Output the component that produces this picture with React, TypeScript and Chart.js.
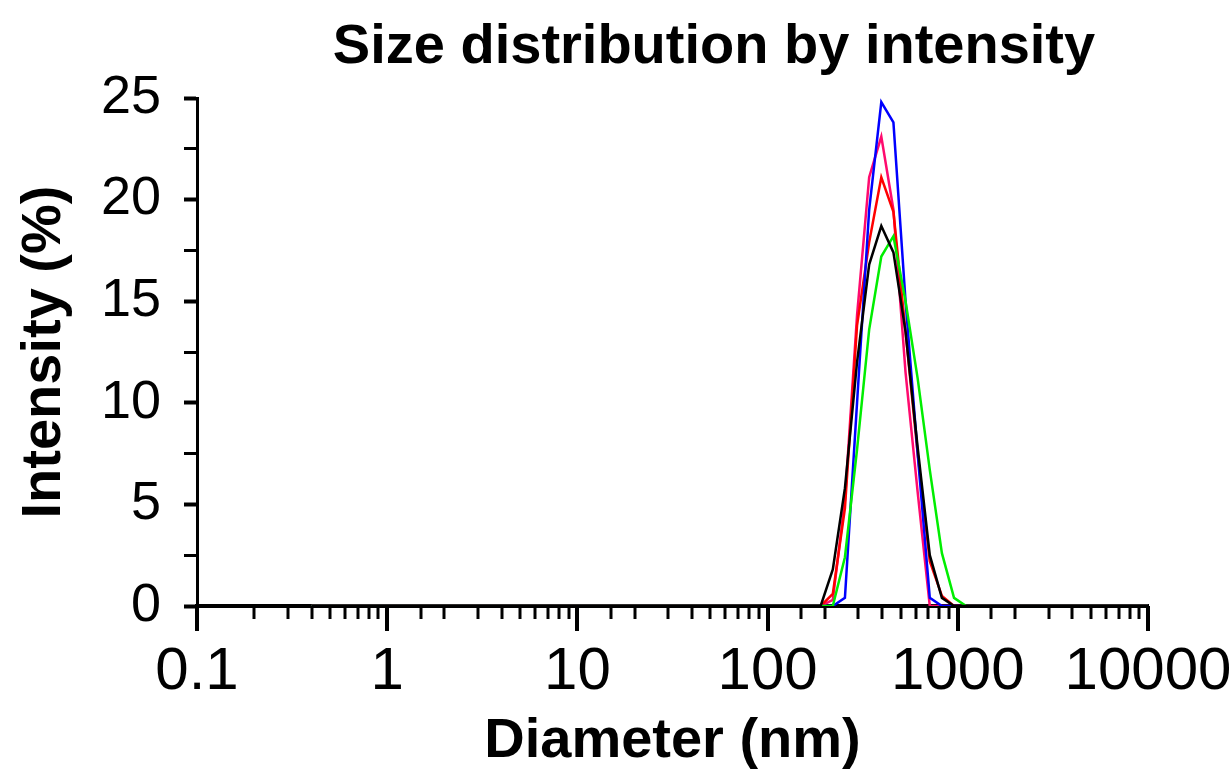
import React, { useEffect, useRef } from "react";
import { Chart, registerables } from "chart.js";

Chart.register(...registerables);

// Malvern size classes (nm)
const sizes = [
  0.4, 0.4632, 0.5365, 0.6213, 0.7195, 0.8332, 0.9649, 1.117, 1.294, 1.499,
  1.736, 2.01, 2.328, 2.696, 3.122, 3.615, 4.187, 4.849, 5.615, 6.503,
  7.531, 8.721, 10.1, 11.7, 13.54, 15.69, 18.17, 21.04, 24.36, 28.21,
  32.67, 37.84, 43.82, 50.75, 58.77, 68.06, 78.82, 91.28, 105.7, 122.4,
  141.8, 164.2, 190.1, 220.2, 255.0, 295.3, 342.0, 396.1, 458.7, 531.2,
  615.1, 712.4, 825.0, 955.4, 1106, 1281, 1484, 1718, 1990, 2305,
  2669, 3091, 3580, 4145, 4801, 5560, 6439, 7456, 8635, 10000,
];

const blackSeries = [
  0, 0, 0, 0, 0, 0, 0, 0, 0, 0,
  0, 0, 0, 0, 0, 0, 0, 0, 0, 0,
  0, 0, 0, 0, 0, 0, 0, 0, 0, 0,
  0, 0, 0, 0, 0, 0, 0, 0, 0, 0,
  0, 0, 0, 1.8, 5.8, 12.0, 16.8, 18.7, 17.4, 13.5,
  7.8, 2.5, 0.4, 0, 0, 0, 0, 0, 0, 0,
  0, 0, 0, 0, 0, 0, 0, 0, 0, 0,
];

const greenSeries = [
  0, 0, 0, 0, 0, 0, 0, 0, 0, 0,
  0, 0, 0, 0, 0, 0, 0, 0, 0, 0,
  0, 0, 0, 0, 0, 0, 0, 0, 0, 0,
  0, 0, 0, 0, 0, 0, 0, 0, 0, 0,
  0, 0, 0, 0, 2.4, 7.7, 13.6, 17.2, 18.2, 15.0,
  11.2, 6.7, 2.6, 0.4, 0, 0, 0, 0, 0, 0,
  0, 0, 0, 0, 0, 0, 0, 0, 0, 0,
];

const blueSeries = [
  0, 0, 0, 0, 0, 0, 0, 0, 0, 0,
  0, 0, 0, 0, 0, 0, 0, 0, 0, 0,
  0, 0, 0, 0, 0, 0, 0, 0, 0, 0,
  0, 0, 0, 0, 0, 0, 0, 0, 0, 0,
  0, 0, 0, 0, 0.4, 10.0, 19.5, 24.8, 23.8, 15.0,
  7.5, 0.4, 0, 0, 0, 0, 0, 0, 0, 0,
  0, 0, 0, 0, 0, 0, 0, 0, 0, 0,
];

const redSeries = [
  0, 0, 0, 0, 0, 0, 0, 0, 0, 0,
  0, 0, 0, 0, 0, 0, 0, 0, 0, 0,
  0, 0, 0, 0, 0, 0, 0, 0, 0, 0,
  0, 0, 0, 0, 0, 0, 0, 0, 0, 0,
  0, 0, 0, 0.6, 4.8, 13.8, 17.9, 21.1, 19.4, 13.5,
  7.5, 2.2, 0.5, 0, 0, 0, 0, 0, 0, 0,
  0, 0, 0, 0, 0, 0, 0, 0, 0, 0,
];

const pinkSeries = [
  0, 0, 0, 0, 0, 0, 0, 0, 0, 0,
  0, 0, 0, 0, 0, 0, 0, 0, 0, 0,
  0, 0, 0, 0, 0, 0, 0, 0, 0, 0,
  0, 0, 0, 0, 0, 0, 0, 0, 0, 0,
  0, 0, 0, 0.3, 5.2, 14.3, 21.1, 23.1, 19.5, 11.5,
  5.6, 0, 0, 0, 0, 0, 0, 0, 0, 0,
  0, 0, 0, 0, 0, 0, 0, 0, 0, 0,
];

const xTickValues = [0.1, 1, 10, 100, 1000, 10000];
const xTickLabels = ["0.1", "1", "10", "100", "1000", "10000"];

const titleText = "Size distribution by intensity";
const xTitle = "Diameter (nm)";
const yTitle = "Intensity (%)";

const FONT = "'Liberation Sans', Arial, sans-serif";

function isDecade(v: number) {
  const e = Math.log10(v);
  return Math.abs(e - Math.round(e)) < 1e-6;
}

const titlePlugin = {
  id: "customTitle",
  afterDraw(chart: any) {
    const ctx = chart.ctx;
    ctx.save();
    ctx.font = `bold 56px ${FONT}`;
    ctx.fillStyle = "#000";
    ctx.textAlign = "center";
    ctx.textBaseline = "alphabetic";
    ctx.fillText(titleText, 714, 63);
    ctx.restore();
  },
};

const xTickPlugin = {
  id: "xTickMarks",
  afterDraw(chart: any) {
    const xs = chart.scales.x;
    const ctx = chart.ctx;
    ctx.save();
    ctx.strokeStyle = "#000";
    for (const t of xs.ticks) {
      const px = Math.round(xs.getPixelForValue(t.value));
      const major = isDecade(t.value);
      ctx.lineWidth = major ? 4 : 3;
      ctx.beginPath();
      ctx.moveTo(px, xs.top);
      ctx.lineTo(px, xs.top + (major ? 25 : 13));
      ctx.stroke();
    }
    ctx.restore();
  },
};

export default function App() {
  const ref = useRef<HTMLCanvasElement | null>(null);

  useEffect(() => {
    document.body.style.margin = "0";
    if (!ref.current) return;
    const mk = (arr: number[]) => sizes.map((s, i) => ({ x: s, y: arr[i] }));
    const ds = (label: string, arr: number[], color: string) => ({
      label,
      data: mk(arr),
      borderColor: color,
      backgroundColor: color,
      borderWidth: 2.5,
      pointRadius: 0,
      tension: 0,
      fill: false,
    });
    const chart = new Chart(ref.current, {
      type: "line",
      data: {
        datasets: [
          ds("Black", blackSeries, "#000000"),
          ds("Green", greenSeries, "#00ee00"),
          ds("Blue", blueSeries, "#0000ff"),
          ds("Red", redSeries, "#ff0000"),
          ds("Pink", pinkSeries, "#ff0a6e"),
        ],
      },
      options: {
        animation: false,
        responsive: true,
        maintainAspectRatio: false,
        layout: { padding: { top: 98, right: 81, left: 0, bottom: 0 } },
        plugins: {
          legend: { display: false },
          title: { display: false },
          tooltip: { enabled: false },
        },
        scales: {
          x: {
            type: "logarithmic",
            min: 0.1,
            max: 10000,
            afterFit: (s: any) => {
              s.height = 169;
              s.paddingLeft = 0;
              s.paddingRight = 0;
            },
            grid: { display: false },
            border: { display: true, color: "#000", width: 4 },
            ticks: {
              autoSkip: false,
              maxRotation: 0,
              padding: 22,
              color: "#000",
              font: { family: FONT, size: 60 },
              callback: (v: any) => {
                const val = Number(v);
                const idx = xTickValues.findIndex((t) => Math.abs(t - val) / t < 1e-6);
                return idx >= 0 ? xTickLabels[idx] : "";
              },
            },
            title: {
              display: true,
              text: xTitle,
              color: "#000",
              font: { family: FONT, size: 56, weight: "bold" },
              padding: { top: 0, bottom: 0 },
            },
          },
          y: {
            type: "linear",
            min: 0,
            max: 25,
            afterFit: (s: any) => {
              s.width = 197;
            },
            grid: {
              drawOnChartArea: false,
              drawTicks: true,
              tickLength: 13,
              tickColor: "#000",
              tickWidth: (c: any) => (c.tick && c.tick.value % 5 === 0 ? 4 : 3),
            },
            border: { display: true, color: "#000", width: 3 },
            ticks: {
              stepSize: 2.5,
              autoSkip: false,
              padding: 23,
              color: "#000",
              font: { family: FONT, size: 54 },
              callback: (v: any) => (Number(v) % 5 === 0 ? String(v) : ""),
            },
            title: {
              display: true,
              text: yTitle,
              color: "#000",
              font: { family: FONT, size: 56, weight: "bold" },
              padding: { top: 11, bottom: 0 },
            },
          },
        },
      },
      plugins: [titlePlugin, xTickPlugin],
    });
    return () => chart.destroy();
  }, []);

  return (
    <div style={{ width: 1229, height: 775, position: "relative", background: "#fff" }}>
      <canvas ref={ref} />
    </div>
  );
}
